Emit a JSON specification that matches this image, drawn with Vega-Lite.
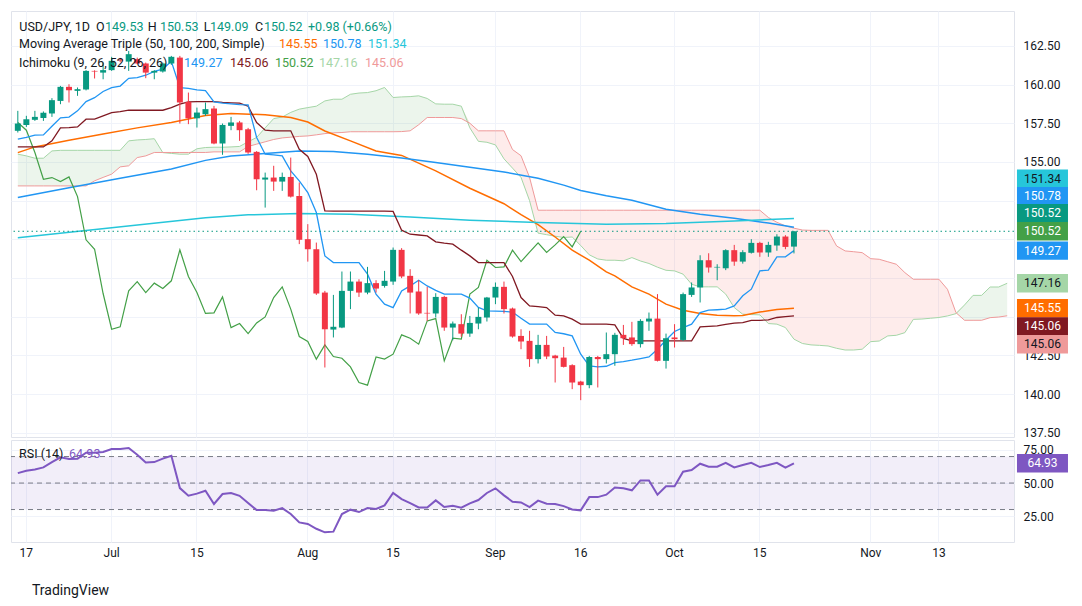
{
  "$schema": "https://vega.github.io/schema/vega-lite/v6.json",
  "background": "white",
  "padding": {"left": 10, "top": 10, "right": 0, "bottom": 0},
  "config": {"font": "Roboto", "view": {"stroke": "#e0e3eb"}},
  "spacing": -4,
  "resolve": {"scale": {"x": "shared", "y": "independent"}},
  "title": {"text": "TradingView", "orient": "bottom", "anchor": "start", "fontSize": 14, "fontWeight": "normal", "color": "#131722", "dx": 22, "offset": 25},
  "datasets": {
    "candles": [
      {"d":"2024-06-14","o":157.01,"h":158.30,"l":156.90,"c":157.48,"t":156.47,"k":155.97,"r":57.5,"g":157.55},
      {"d":"2024-06-17","o":157.39,"h":157.98,"l":157.26,"c":157.76,"t":156.58,"k":155.97,"r":59.3,"g":157.05},
      {"d":"2024-06-18","o":157.72,"h":158.30,"l":157.65,"c":157.91,"t":156.73,"k":155.97,"r":60.3,"g":155.61},
      {"d":"2024-06-19","o":157.83,"h":158.26,"l":157.65,"c":158.17,"t":156.75,"k":155.97,"r":61.8,"g":153.88},
      {"d":"2024-06-20","o":158.13,"h":159.12,"l":157.91,"c":158.99,"t":157.30,"k":156.36,"r":65.8,"g":153.99},
      {"d":"2024-06-21","o":158.94,"h":159.91,"l":158.73,"c":159.85,"t":157.85,"k":157.20,"r":69.4,"g":153.73},
      {"d":"2024-06-24","o":159.85,"h":160.02,"l":158.84,"c":159.63,"t":157.90,"k":157.22,"r":68.1,"g":154.03},
      {"d":"2024-06-25","o":159.59,"h":159.81,"l":159.27,"c":159.70,"t":158.30,"k":157.26,"r":68.4,"g":152.76},
      {"d":"2024-06-26","o":159.68,"h":160.93,"l":159.62,"c":160.88,"t":158.90,"k":157.76,"r":72.9,"g":149.97},
      {"d":"2024-06-27","o":160.88,"h":160.92,"l":160.39,"c":160.84,"t":159.15,"k":157.76,"r":72.9,"g":149.36},
      {"d":"2024-06-28","o":160.77,"h":161.42,"l":160.34,"c":160.93,"t":159.55,"k":157.97,"r":73.4,"g":146.50},
      {"d":"2024-07-01","o":160.93,"h":161.79,"l":160.88,"c":161.53,"t":159.80,"k":158.19,"r":75.7,"g":144.19},
      {"d":"2024-07-02","o":161.62,"h":161.72,"l":161.45,"c":161.55,"t":159.90,"k":158.25,"r":75.7,"g":144.35},
      {"d":"2024-07-03","o":161.48,"h":162.17,"l":160.88,"c":161.96,"t":160.40,"k":158.34,"r":76.4,"g":146.67},
      {"d":"2024-07-04","o":161.64,"h":161.74,"l":161.31,"c":161.36,"t":160.45,"k":158.34,"r":71.4,"g":147.27},
      {"d":"2024-07-05","o":161.36,"h":161.42,"l":160.41,"c":160.77,"t":160.60,"k":158.34,"r":65.6,"g":146.56},
      {"d":"2024-07-08","o":160.77,"h":160.93,"l":160.34,"c":160.88,"t":160.85,"k":158.34,"r":65.8,"g":147.17},
      {"d":"2024-07-09","o":160.84,"h":161.42,"l":160.77,"c":161.36,"t":161.00,"k":158.34,"r":68.4,"g":146.82},
      {"d":"2024-07-10","o":161.36,"h":161.85,"l":161.27,"c":161.79,"t":161.50,"k":158.51,"r":70.6,"g":147.32},
      {"d":"2024-07-11","o":161.74,"h":161.85,"l":157.48,"c":158.84,"t":159.80,"k":158.73,"r":46.2,"g":149.32},
      {"d":"2024-07-12","o":158.88,"h":159.48,"l":157.44,"c":157.82,"t":159.75,"k":158.88,"r":40.4,"g":147.60},
      {"d":"2024-07-15","o":157.82,"h":158.51,"l":157.22,"c":158.19,"t":159.65,"k":158.90,"r":42.0,"g":146.56},
      {"d":"2024-07-16","o":158.08,"h":158.84,"l":157.98,"c":158.41,"t":159.60,"k":158.90,"r":44.2,"g":145.21},
      {"d":"2024-07-17","o":158.45,"h":158.62,"l":156.14,"c":156.19,"t":158.88,"k":158.90,"r":34.2,"g":145.25},
      {"d":"2024-07-18","o":156.19,"h":157.48,"l":155.46,"c":157.39,"t":158.80,"k":158.85,"r":41.7,"g":146.28},
      {"d":"2024-07-19","o":157.33,"h":157.91,"l":157.05,"c":157.55,"t":158.75,"k":158.82,"r":42.5,"g":144.30},
      {"d":"2024-07-22","o":157.55,"h":157.65,"l":156.36,"c":157.05,"t":158.70,"k":158.80,"r":40.4,"g":144.56},
      {"d":"2024-07-23","o":157.11,"h":157.20,"l":155.52,"c":155.61,"t":158.69,"k":158.60,"r":34.9,"g":143.91},
      {"d":"2024-07-24","o":155.65,"h":155.70,"l":153.17,"c":153.88,"t":156.58,"k":157.54,"r":29.6,"g":144.60},
      {"d":"2024-07-25","o":153.86,"h":154.31,"l":152.05,"c":153.99,"t":155.50,"k":157.05,"r":29.6,"g":144.99},
      {"d":"2024-07-26","o":153.99,"h":154.75,"l":153.13,"c":153.73,"t":155.45,"k":157.01,"r":29.1,"g":146.24},
      {"d":"2024-07-29","o":153.73,"h":154.31,"l":153.13,"c":154.03,"t":155.39,"k":157.01,"r":31.1,"g":146.93},
      {"d":"2024-07-30","o":154.03,"h":155.28,"l":152.70,"c":152.76,"t":154.42,"k":157.01,"r":26.6,"g":145.49},
      {"d":"2024-07-31","o":152.80,"h":153.67,"l":149.69,"c":149.97,"t":153.78,"k":155.82,"r":20.3,"g":143.72},
      {"d":"2024-08-01","o":150.01,"h":150.98,"l":148.56,"c":149.36,"t":153.02,"k":155.35,"r":19.1,"g":143.40},
      {"d":"2024-08-02","o":149.36,"h":149.79,"l":146.41,"c":146.50,"t":151.73,"k":154.20,"r":15.5,"g":142.26},
      {"d":"2024-08-05","o":146.56,"h":146.67,"l":141.72,"c":144.19,"t":148.93,"k":151.84,"r":12.8,"g":143.18},
      {"d":"2024-08-06","o":144.17,"h":146.41,"l":143.66,"c":144.35,"t":148.50,"k":151.82,"r":13.3,"g":142.43},
      {"d":"2024-08-07","o":144.30,"h":147.92,"l":144.26,"c":146.67,"t":148.50,"k":151.82,"r":26.6,"g":142.32},
      {"d":"2024-08-08","o":146.67,"h":147.92,"l":145.49,"c":147.27,"t":148.50,"k":151.82,"r":29.9,"g":141.76},
      {"d":"2024-08-09","o":147.27,"h":147.42,"l":146.28,"c":146.56,"t":148.50,"k":151.82,"r":28.1,"g":140.75},
      {"d":"2024-08-12","o":146.56,"h":148.22,"l":146.45,"c":147.17,"t":147.75,"k":151.82,"r":31.1,"g":140.58},
      {"d":"2024-08-13","o":147.17,"h":147.36,"l":146.56,"c":146.82,"t":146.46,"k":151.82,"r":30.4,"g":142.40},
      {"d":"2024-08-14","o":146.99,"h":147.96,"l":146.88,"c":147.32,"t":145.81,"k":151.82,"r":33.1,"g":142.26},
      {"d":"2024-08-15","o":147.27,"h":149.47,"l":147.06,"c":149.32,"t":145.59,"k":151.80,"r":42.5,"g":142.58},
      {"d":"2024-08-16","o":149.32,"h":149.43,"l":147.49,"c":147.60,"t":146.67,"k":150.59,"r":37.9,"g":143.83},
      {"d":"2024-08-19","o":147.64,"h":148.07,"l":145.21,"c":146.56,"t":146.99,"k":150.33,"r":34.9,"g":143.61},
      {"d":"2024-08-20","o":146.63,"h":147.36,"l":145.12,"c":145.21,"t":147.36,"k":150.28,"r":31.6,"g":143.23},
      {"d":"2024-08-21","o":145.25,"h":146.93,"l":144.73,"c":145.21,"t":146.99,"k":150.22,"r":31.6,"g":144.73},
      {"d":"2024-08-22","o":145.21,"h":146.52,"l":144.95,"c":146.28,"t":146.70,"k":149.84,"r":36.9,"g":144.88},
      {"d":"2024-08-23","o":146.28,"h":146.35,"l":144.09,"c":144.30,"t":146.46,"k":149.75,"r":31.9,"g":142.15},
      {"d":"2024-08-26","o":144.30,"h":144.69,"l":143.48,"c":144.56,"t":146.46,"k":149.69,"r":32.9,"g":143.61},
      {"d":"2024-08-27","o":144.52,"h":145.16,"l":143.70,"c":143.91,"t":146.46,"k":149.30,"r":31.4,"g":143.55},
      {"d":"2024-08-28","o":143.91,"h":145.05,"l":143.70,"c":144.60,"t":146.20,"k":148.93,"r":34.7,"g":146.46},
      {"d":"2024-08-29","o":144.56,"h":145.59,"l":144.19,"c":144.99,"t":145.60,"k":148.50,"r":37.2,"g":146.89},
      {"d":"2024-08-30","o":144.95,"h":146.28,"l":144.69,"c":146.24,"t":145.38,"k":148.50,"r":42.5,"g":148.65},
      {"d":"2024-09-02","o":146.24,"h":147.21,"l":145.81,"c":146.93,"t":145.36,"k":148.50,"r":46.0,"g":148.18},
      {"d":"2024-09-03","o":146.93,"h":147.27,"l":145.21,"c":145.49,"t":145.34,"k":148.50,"r":40.7,"g":148.22},
      {"d":"2024-09-04","o":145.53,"h":145.59,"l":143.65,"c":143.72,"t":145.30,"k":147.60,"r":35.9,"g":149.30},
      {"d":"2024-09-05","o":143.76,"h":144.19,"l":142.90,"c":143.40,"t":144.90,"k":146.24,"r":35.4,"g":148.56},
      {"d":"2024-09-06","o":143.44,"h":144.09,"l":141.76,"c":142.26,"t":144.52,"k":145.70,"r":31.9,"g":149.17},
      {"d":"2024-09-09","o":142.26,"h":143.83,"l":141.98,"c":143.18,"t":144.52,"k":145.65,"r":36.7,"g":149.77},
      {"d":"2024-09-10","o":143.18,"h":143.76,"l":142.26,"c":142.43,"t":144.52,"k":145.59,"r":34.4,"g":149.15},
      {"d":"2024-09-11","o":142.49,"h":142.54,"l":140.75,"c":142.32,"t":143.98,"k":145.10,"r":34.2,"g":149.64},
      {"d":"2024-09-12","o":142.36,"h":143.05,"l":141.72,"c":141.76,"t":143.90,"k":145.06,"r":32.6,"g":150.18},
      {"d":"2024-09-13","o":141.87,"h":141.93,"l":140.32,"c":140.75,"t":143.76,"k":144.84,"r":30.1,"g":149.51},
      {"d":"2024-09-16","o":140.81,"h":140.86,"l":139.61,"c":140.58,"t":142.58,"k":144.52,"r":29.4,"g":150.52},
      {"d":"2024-09-17","o":140.58,"h":142.47,"l":140.38,"c":142.40,"t":141.83,"k":144.52,"r":39.4},
      {"d":"2024-09-18","o":142.40,"h":142.47,"l":140.43,"c":142.26,"t":141.76,"k":144.52,"r":39.4},
      {"d":"2024-09-19","o":142.26,"h":143.98,"l":141.98,"c":142.58,"t":141.80,"k":144.52,"r":41.2},
      {"d":"2024-09-20","o":142.58,"h":143.96,"l":141.83,"c":143.83,"t":142.04,"k":144.47,"r":46.7},
      {"d":"2024-09-23","o":143.83,"h":144.47,"l":143.18,"c":143.61,"t":142.10,"k":143.60,"r":46.0},
      {"d":"2024-09-24","o":143.66,"h":144.67,"l":143.12,"c":143.23,"t":142.19,"k":143.44,"r":44.5},
      {"d":"2024-09-25","o":143.23,"h":144.84,"l":143.01,"c":144.73,"t":142.30,"k":143.44,"r":52.0},
      {"d":"2024-09-26","o":144.69,"h":145.27,"l":144.09,"c":144.88,"t":142.40,"k":143.44,"r":52.0},
      {"d":"2024-09-27","o":144.88,"h":146.46,"l":142.11,"c":142.15,"t":142.90,"k":143.44,"r":41.2},
      {"d":"2024-09-30","o":142.15,"h":143.91,"l":141.65,"c":143.61,"t":143.50,"k":143.44,"r":47.5},
      {"d":"2024-10-01","o":143.66,"h":144.52,"l":143.01,"c":143.55,"t":144.05,"k":143.44,"r":47.5},
      {"d":"2024-10-02","o":143.50,"h":146.56,"l":143.44,"c":146.46,"t":144.30,"k":143.44,"r":58.6},
      {"d":"2024-10-03","o":146.41,"h":147.21,"l":146.28,"c":146.89,"t":144.52,"k":143.44,"r":59.8},
      {"d":"2024-10-04","o":146.89,"h":148.97,"l":145.92,"c":148.65,"t":145.27,"k":144.34,"r":64.6},
      {"d":"2024-10-07","o":148.65,"h":149.10,"l":147.85,"c":148.18,"t":145.42,"k":144.38,"r":62.3},
      {"d":"2024-10-08","o":148.18,"h":148.39,"l":147.36,"c":148.22,"t":145.45,"k":144.41,"r":62.3},
      {"d":"2024-10-09","o":148.13,"h":149.36,"l":148.01,"c":149.30,"t":145.49,"k":144.50,"r":65.3},
      {"d":"2024-10-10","o":149.30,"h":149.64,"l":148.29,"c":148.56,"t":145.70,"k":144.58,"r":61.8},
      {"d":"2024-10-11","o":148.56,"h":149.30,"l":148.43,"c":149.17,"t":146.35,"k":144.62,"r":63.6},
      {"d":"2024-10-14","o":149.13,"h":150.01,"l":149.08,"c":149.77,"t":146.78,"k":144.77,"r":65.3},
      {"d":"2024-10-15","o":149.77,"h":149.84,"l":148.87,"c":149.15,"t":147.96,"k":144.77,"r":62.1},
      {"d":"2024-10-16","o":149.15,"h":149.84,"l":148.87,"c":149.64,"t":148.01,"k":144.80,"r":63.6},
      {"d":"2024-10-17","o":149.60,"h":150.33,"l":149.26,"c":150.18,"t":148.87,"k":144.95,"r":65.3},
      {"d":"2024-10-18","o":150.18,"h":150.27,"l":149.36,"c":149.51,"t":148.87,"k":145.00,"r":61.6},
      {"d":"2024-10-21","o":149.53,"h":150.53,"l":149.09,"c":150.52,"t":149.27,"k":145.06,"r":64.93}
    ],
    "cloud": [
      {"d":"2024-06-14","a":155.50,"b":153.45,"m":155.50},
      {"d":"2024-06-17","a":155.39,"b":153.45,"m":155.39},
      {"d":"2024-06-18","a":155.24,"b":153.45,"m":155.24},
      {"d":"2024-06-19","a":155.24,"b":153.45,"m":155.24},
      {"d":"2024-06-20","a":155.71,"b":153.45,"m":155.71},
      {"d":"2024-06-21","a":155.75,"b":153.45,"m":155.75},
      {"d":"2024-06-24","a":155.75,"b":153.45,"m":155.75},
      {"d":"2024-06-25","a":155.75,"b":153.45,"m":155.75},
      {"d":"2024-06-26","a":155.75,"b":153.45,"m":155.75},
      {"d":"2024-06-27","a":155.75,"b":153.78,"m":155.75},
      {"d":"2024-06-28","a":155.75,"b":154.00,"m":155.75},
      {"d":"2024-07-01","a":155.75,"b":154.21,"m":155.75},
      {"d":"2024-07-02","a":155.75,"b":154.68,"m":155.75},
      {"d":"2024-07-03","a":156.36,"b":154.75,"m":156.36},
      {"d":"2024-07-04","a":156.42,"b":155.28,"m":156.42},
      {"d":"2024-07-05","a":156.45,"b":155.39,"m":156.45},
      {"d":"2024-07-08","a":156.50,"b":155.61,"m":156.50},
      {"d":"2024-07-09","a":155.60,"b":155.61,"m":155.61},
      {"d":"2024-07-10","a":155.55,"b":155.61,"m":155.61},
      {"d":"2024-07-11","a":155.50,"b":155.61,"m":155.61},
      {"d":"2024-07-12","a":155.50,"b":155.61,"m":155.61},
      {"d":"2024-07-15","a":155.85,"b":155.61,"m":155.85},
      {"d":"2024-07-16","a":155.93,"b":155.61,"m":155.93},
      {"d":"2024-07-17","a":155.95,"b":155.65,"m":155.95},
      {"d":"2024-07-18","a":155.95,"b":155.65,"m":155.95},
      {"d":"2024-07-19","a":155.97,"b":155.65,"m":155.97},
      {"d":"2024-07-22","a":156.00,"b":155.65,"m":156.00},
      {"d":"2024-07-23","a":156.30,"b":156.00,"m":156.30},
      {"d":"2024-07-24","a":156.58,"b":156.15,"m":156.58},
      {"d":"2024-07-25","a":157.20,"b":156.30,"m":157.20},
      {"d":"2024-07-26","a":157.80,"b":156.45,"m":157.80},
      {"d":"2024-07-29","a":157.90,"b":156.55,"m":157.90},
      {"d":"2024-07-30","a":158.20,"b":156.60,"m":158.20},
      {"d":"2024-07-31","a":158.41,"b":156.65,"m":158.41},
      {"d":"2024-08-01","a":158.51,"b":156.68,"m":158.51},
      {"d":"2024-08-02","a":158.60,"b":156.75,"m":158.60},
      {"d":"2024-08-05","a":158.94,"b":156.83,"m":158.94},
      {"d":"2024-08-06","a":159.05,"b":156.88,"m":159.05},
      {"d":"2024-08-07","a":159.05,"b":156.90,"m":159.05},
      {"d":"2024-08-08","a":159.37,"b":156.95,"m":159.37},
      {"d":"2024-08-09","a":159.45,"b":156.95,"m":159.45},
      {"d":"2024-08-12","a":159.48,"b":156.95,"m":159.48},
      {"d":"2024-08-13","a":159.60,"b":156.95,"m":159.60},
      {"d":"2024-08-14","a":159.81,"b":156.95,"m":159.81},
      {"d":"2024-08-15","a":159.16,"b":156.95,"m":159.16},
      {"d":"2024-08-16","a":159.20,"b":156.96,"m":159.20},
      {"d":"2024-08-19","a":159.22,"b":157.01,"m":159.22},
      {"d":"2024-08-20","a":159.27,"b":157.40,"m":159.27},
      {"d":"2024-08-21","a":159.10,"b":157.87,"m":159.10},
      {"d":"2024-08-22","a":158.75,"b":157.87,"m":158.75},
      {"d":"2024-08-23","a":158.73,"b":157.87,"m":158.73},
      {"d":"2024-08-26","a":158.73,"b":157.87,"m":158.73},
      {"d":"2024-08-27","a":158.60,"b":157.80,"m":158.60},
      {"d":"2024-08-28","a":157.20,"b":157.50,"m":157.50},
      {"d":"2024-08-29","a":156.33,"b":157.01,"m":157.01},
      {"d":"2024-08-30","a":156.27,"b":157.01,"m":157.01},
      {"d":"2024-09-02","a":156.10,"b":157.01,"m":157.01},
      {"d":"2024-09-03","a":155.20,"b":157.01,"m":157.01},
      {"d":"2024-09-04","a":154.60,"b":155.80,"m":155.80},
      {"d":"2024-09-05","a":154.00,"b":155.40,"m":155.40},
      {"d":"2024-09-06","a":152.50,"b":154.00,"m":154.00},
      {"d":"2024-09-09","a":150.40,"b":151.88,"m":151.88},
      {"d":"2024-09-10","a":150.30,"b":151.88,"m":151.88},
      {"d":"2024-09-11","a":150.20,"b":151.88,"m":151.88},
      {"d":"2024-09-12","a":150.12,"b":151.88,"m":151.88},
      {"d":"2024-09-13","a":150.15,"b":151.88,"m":151.88},
      {"d":"2024-09-16","a":149.60,"b":151.88,"m":151.88},
      {"d":"2024-09-17","a":149.00,"b":151.88,"m":151.88},
      {"d":"2024-09-18","a":148.73,"b":151.88,"m":151.88},
      {"d":"2024-09-19","a":148.65,"b":151.88,"m":151.88},
      {"d":"2024-09-20","a":148.65,"b":151.88,"m":151.88},
      {"d":"2024-09-23","a":148.61,"b":151.88,"m":151.88},
      {"d":"2024-09-24","a":148.82,"b":151.88,"m":151.88},
      {"d":"2024-09-25","a":148.60,"b":151.88,"m":151.88},
      {"d":"2024-09-26","a":148.44,"b":151.88,"m":151.88},
      {"d":"2024-09-27","a":148.20,"b":151.88,"m":151.88},
      {"d":"2024-09-30","a":148.00,"b":151.88,"m":151.88},
      {"d":"2024-10-01","a":147.96,"b":151.88,"m":151.88},
      {"d":"2024-10-02","a":147.75,"b":151.88,"m":151.88},
      {"d":"2024-10-03","a":147.10,"b":151.88,"m":151.88},
      {"d":"2024-10-04","a":146.93,"b":151.88,"m":151.88},
      {"d":"2024-10-07","a":146.93,"b":151.88,"m":151.88},
      {"d":"2024-10-08","a":146.93,"b":151.88,"m":151.88},
      {"d":"2024-10-09","a":146.46,"b":151.88,"m":151.88},
      {"d":"2024-10-10","a":145.59,"b":151.88,"m":151.88},
      {"d":"2024-10-11","a":145.16,"b":151.88,"m":151.88},
      {"d":"2024-10-14","a":145.14,"b":151.88,"m":151.88},
      {"d":"2024-10-15","a":145.12,"b":151.88,"m":151.88},
      {"d":"2024-10-16","a":144.56,"b":151.41,"m":151.41},
      {"d":"2024-10-17","a":144.52,"b":151.10,"m":151.10},
      {"d":"2024-10-18","a":144.30,"b":150.87,"m":150.87},
      {"d":"2024-10-21","a":143.55,"b":150.72,"m":150.72},
      {"d":"2024-10-22","a":143.27,"b":150.60,"m":150.60},
      {"d":"2024-10-23","a":143.18,"b":150.58,"m":150.58},
      {"d":"2024-10-24","a":143.15,"b":150.58,"m":150.58},
      {"d":"2024-10-25","a":143.11,"b":150.58,"m":150.58},
      {"d":"2024-10-28","a":142.96,"b":149.57,"m":149.57},
      {"d":"2024-10-29","a":142.85,"b":149.25,"m":149.25},
      {"d":"2024-10-30","a":142.85,"b":149.20,"m":149.20},
      {"d":"2024-10-31","a":142.90,"b":149.14,"m":149.14},
      {"d":"2024-11-01","a":143.39,"b":148.75,"m":148.75},
      {"d":"2024-11-04","a":143.43,"b":148.71,"m":148.71},
      {"d":"2024-11-05","a":143.76,"b":148.55,"m":148.55},
      {"d":"2024-11-06","a":143.80,"b":148.39,"m":148.39},
      {"d":"2024-11-07","a":143.97,"b":147.85,"m":147.85},
      {"d":"2024-11-08","a":144.83,"b":147.42,"m":147.42},
      {"d":"2024-11-11","a":144.85,"b":147.42,"m":147.42},
      {"d":"2024-11-12","a":144.90,"b":147.42,"m":147.42},
      {"d":"2024-11-13","a":144.95,"b":147.42,"m":147.42},
      {"d":"2024-11-14","a":145.05,"b":146.77,"m":146.77},
      {"d":"2024-11-15","a":145.20,"b":145.26,"m":145.26},
      {"d":"2024-11-18","a":145.76,"b":144.77,"m":145.76},
      {"d":"2024-11-19","a":146.38,"b":144.77,"m":146.38},
      {"d":"2024-11-20","a":146.38,"b":144.77,"m":146.38},
      {"d":"2024-11-21","a":146.92,"b":144.94,"m":146.92},
      {"d":"2024-11-22","a":146.92,"b":144.98,"m":146.92},
      {"d":"2024-11-25","a":147.16,"b":145.06,"m":147.16}
    ],
    "ma": [
      {"s":"SMA 50","d":"2024-06-14","v":155.60},{"s":"SMA 50","d":"2024-06-18","v":155.97},{"s":"SMA 50","d":"2024-06-24","v":156.40},{"s":"SMA 50","d":"2024-06-28","v":156.80},{"s":"SMA 50","d":"2024-07-04","v":157.20},{"s":"SMA 50","d":"2024-07-10","v":157.55},{"s":"SMA 50","d":"2024-07-16","v":158.00},{"s":"SMA 50","d":"2024-07-19","v":158.13},{"s":"SMA 50","d":"2024-07-25","v":158.05},{"s":"SMA 50","d":"2024-07-30","v":157.87},{"s":"SMA 50","d":"2024-08-01","v":157.58},{"s":"SMA 50","d":"2024-08-05","v":157.00},{"s":"SMA 50","d":"2024-08-08","v":156.36},{"s":"SMA 50","d":"2024-08-13","v":155.71},{"s":"SMA 50","d":"2024-08-16","v":155.42},{"s":"SMA 50","d":"2024-08-22","v":154.42},{"s":"SMA 50","d":"2024-08-28","v":153.30},{"s":"SMA 50","d":"2024-09-03","v":152.30},{"s":"SMA 50","d":"2024-09-05","v":151.60},{"s":"SMA 50","d":"2024-09-09","v":150.95},{"s":"SMA 50","d":"2024-09-11","v":150.15},{"s":"SMA 50","d":"2024-09-13","v":149.30},{"s":"SMA 50","d":"2024-09-17","v":148.65},{"s":"SMA 50","d":"2024-09-19","v":147.90},{"s":"SMA 50","d":"2024-09-20","v":147.64},{"s":"SMA 50","d":"2024-09-24","v":146.93},{"s":"SMA 50","d":"2024-09-26","v":146.46},{"s":"SMA 50","d":"2024-09-30","v":145.81},{"s":"SMA 50","d":"2024-10-02","v":145.42},{"s":"SMA 50","d":"2024-10-04","v":145.21},{"s":"SMA 50","d":"2024-10-08","v":145.10},{"s":"SMA 50","d":"2024-10-10","v":145.06},{"s":"SMA 50","d":"2024-10-11","v":145.08},{"s":"SMA 50","d":"2024-10-15","v":145.30},{"s":"SMA 50","d":"2024-10-17","v":145.46},{"s":"SMA 50","d":"2024-10-21","v":145.55},
      {"s":"SMA 100","d":"2024-06-14","v":152.70},{"s":"SMA 100","d":"2024-06-24","v":153.33},{"s":"SMA 100","d":"2024-07-02","v":153.95},{"s":"SMA 100","d":"2024-07-10","v":154.55},{"s":"SMA 100","d":"2024-07-16","v":155.10},{"s":"SMA 100","d":"2024-07-19","v":155.39},{"s":"SMA 100","d":"2024-07-25","v":155.54},{"s":"SMA 100","d":"2024-07-31","v":155.71},{"s":"SMA 100","d":"2024-08-06","v":155.67},{"s":"SMA 100","d":"2024-08-12","v":155.50},{"s":"SMA 100","d":"2024-08-16","v":155.26},{"s":"SMA 100","d":"2024-08-22","v":154.96},{"s":"SMA 100","d":"2024-08-28","v":154.66},{"s":"SMA 100","d":"2024-09-03","v":154.35},{"s":"SMA 100","d":"2024-09-09","v":153.95},{"s":"SMA 100","d":"2024-09-12","v":153.50},{"s":"SMA 100","d":"2024-09-16","v":153.15},{"s":"SMA 100","d":"2024-09-19","v":152.82},{"s":"SMA 100","d":"2024-09-24","v":152.53},{"s":"SMA 100","d":"2024-09-30","v":151.95},{"s":"SMA 100","d":"2024-10-04","v":151.62},{"s":"SMA 100","d":"2024-10-10","v":151.36},{"s":"SMA 100","d":"2024-10-16","v":151.05},{"s":"SMA 100","d":"2024-10-21","v":150.78},
      {"s":"SMA 200","d":"2024-06-14","v":150.10},{"s":"SMA 200","d":"2024-07-01","v":150.75},{"s":"SMA 200","d":"2024-07-16","v":151.40},{"s":"SMA 200","d":"2024-07-23","v":151.58},{"s":"SMA 200","d":"2024-07-31","v":151.67},{"s":"SMA 200","d":"2024-08-08","v":151.62},{"s":"SMA 200","d":"2024-08-19","v":151.45},{"s":"SMA 200","d":"2024-08-28","v":151.24},{"s":"SMA 200","d":"2024-09-09","v":151.09},{"s":"SMA 200","d":"2024-09-19","v":150.98},{"s":"SMA 200","d":"2024-09-30","v":151.02},{"s":"SMA 200","d":"2024-10-10","v":151.19},{"s":"SMA 200","d":"2024-10-21","v":151.34}
    ]
  },
  "vconcat": [
    {
      "width": 1003,
      "height": 426,
      "layer": [
        {
          "data": {"name": "cloud"},
          "mark": {"type": "area", "color": "#43A047", "opacity": 0.1},
          "encoding": {
            "x": {"field": "d", "type": "ordinal", "scale": {"type": "band", "paddingInner": 0, "paddingOuter": 0.3},
                  "axis": {"values": ["2024-06-17","2024-07-01","2024-07-15","2024-08-01","2024-08-15","2024-09-02","2024-09-16","2024-10-01","2024-10-15","2024-11-01","2024-11-13"], "labels": false, "ticks": false, "domain": false, "title": null, "grid": true, "gridColor": "#f0f3fa", "bandPosition": 0.5}},
            "y": {"field": "m", "type": "quantitative", "scale": {"domain": [137.23, 164.75], "nice": false, "zero": false},
                  "axis": {"orient": "right", "values": [137.5,140,142.5,145,147.5,150,152.5,155,157.5,160,162.5], "labelExpr": "datum.value > 144 && datum.value < 154 ? '' : format(datum.value, '.2f')", "title": null, "grid": true, "gridColor": "#f0f3fa", "domain": false, "ticks": false, "tickSize": 0, "labelPadding": 9, "labelFontSize": 12, "labelColor": "#131722"}},
            "y2": {"field": "b"}
          }
        },
        {
          "data": {"name": "cloud"},
          "mark": {"type": "area", "color": "#F44336", "opacity": 0.1},
          "encoding": {"x": {"field": "d", "type": "ordinal"}, "y": {"field": "m", "type": "quantitative"}, "y2": {"field": "a"}}
        },
        {
          "data": {"name": "cloud"},
          "mark": {"type": "line", "color": "#A5D6A7", "strokeWidth": 1},
          "encoding": {"x": {"field": "d", "type": "ordinal"}, "y": {"field": "a", "type": "quantitative"}}
        },
        {
          "data": {"name": "cloud"},
          "mark": {"type": "line", "color": "#EF9A9A", "strokeWidth": 1},
          "encoding": {"x": {"field": "d", "type": "ordinal"}, "y": {"field": "b", "type": "quantitative"}}
        },
        {
          "data": {"name": "ma"},
          "mark": {"type": "line", "strokeWidth": 1.5},
          "encoding": {
            "x": {"field": "d", "type": "ordinal"},
            "y": {"field": "v", "type": "quantitative"},
            "color": {"field": "s", "type": "nominal", "scale": {"domain": ["SMA 50","SMA 100","SMA 200"], "range": ["#FF6D00","#2196F3","#26C6DA"]}, "legend": null}
          }
        },
        {
          "data": {"name": "candles"},
          "mark": {"type": "line", "color": "#43A047", "strokeWidth": 1.2},
          "encoding": {"x": {"field": "d", "type": "ordinal"}, "y": {"field": "g", "type": "quantitative"}}
        },
        {
          "data": {"name": "candles"},
          "mark": {"type": "line", "color": "#801922", "strokeWidth": 1.3},
          "encoding": {"x": {"field": "d", "type": "ordinal"}, "y": {"field": "k", "type": "quantitative"}}
        },
        {
          "data": {"name": "candles"},
          "mark": {"type": "line", "color": "#2196F3", "strokeWidth": 1.3},
          "encoding": {"x": {"field": "d", "type": "ordinal"}, "y": {"field": "t", "type": "quantitative"}}
        },
        {
          "data": {"values": [{}]},
          "mark": {"type": "rule", "color": "#089981", "strokeDash": [1.5, 3], "strokeWidth": 1},
          "encoding": {"y": {"datum": 150.52, "type": "quantitative"}}
        },
        {
          "data": {"name": "candles"},
          "mark": {"type": "rule", "strokeWidth": 1},
          "encoding": {
            "x": {"field": "d", "type": "ordinal"},
            "y": {"field": "l", "type": "quantitative"},
            "y2": {"field": "h"},
            "color": {"condition": {"test": "datum.c >= datum.o", "value": "#089981"}, "value": "#F23645"}
          }
        },
        {
          "data": {"name": "candles"},
          "mark": {"type": "bar", "width": {"band": 0.7}},
          "encoding": {
            "x": {"field": "d", "type": "ordinal"},
            "y": {"field": "o", "type": "quantitative"},
            "y2": {"field": "c"},
            "color": {"condition": {"test": "datum.c >= datum.o", "value": "#089981"}, "value": "#F23645"}
          }
        },
        {"data": {"values": [{}]}, "mark": {"type": "text", "text": "USD/JPY, 1D", "align": "left", "baseline": "middle", "dx": 1.5, "fontSize": 12.5, "color": "#131722"}, "encoding": {"x": {"datum": "2024-06-14", "type": "ordinal"}, "y": {"datum": 163.74, "type": "quantitative"}}},
        {"data": {"values": [{}]}, "mark": {"type": "text", "text": "O", "align": "left", "baseline": "middle", "dx": 78.2, "fontSize": 12.5, "color": "#131722"}, "encoding": {"x": {"datum": "2024-06-14", "type": "ordinal"}, "y": {"datum": 163.74, "type": "quantitative"}}},
        {"data": {"values": [{}]}, "mark": {"type": "text", "text": "149.53", "align": "left", "baseline": "middle", "dx": 87.2, "fontSize": 12.5, "color": "#089981"}, "encoding": {"x": {"datum": "2024-06-14", "type": "ordinal"}, "y": {"datum": 163.74, "type": "quantitative"}}},
        {"data": {"values": [{}]}, "mark": {"type": "text", "text": "H", "align": "left", "baseline": "middle", "dx": 129.9, "fontSize": 12.5, "color": "#131722"}, "encoding": {"x": {"datum": "2024-06-14", "type": "ordinal"}, "y": {"datum": 163.74, "type": "quantitative"}}},
        {"data": {"values": [{}]}, "mark": {"type": "text", "text": "150.53", "align": "left", "baseline": "middle", "dx": 142.2, "fontSize": 12.5, "color": "#089981"}, "encoding": {"x": {"datum": "2024-06-14", "type": "ordinal"}, "y": {"datum": 163.74, "type": "quantitative"}}},
        {"data": {"values": [{}]}, "mark": {"type": "text", "text": "L", "align": "left", "baseline": "middle", "dx": 185.9, "fontSize": 12.5, "color": "#131722"}, "encoding": {"x": {"datum": "2024-06-14", "type": "ordinal"}, "y": {"datum": 163.74, "type": "quantitative"}}},
        {"data": {"values": [{}]}, "mark": {"type": "text", "text": "149.09", "align": "left", "baseline": "middle", "dx": 192.2, "fontSize": 12.5, "color": "#089981"}, "encoding": {"x": {"datum": "2024-06-14", "type": "ordinal"}, "y": {"datum": 163.74, "type": "quantitative"}}},
        {"data": {"values": [{}]}, "mark": {"type": "text", "text": "C", "align": "left", "baseline": "middle", "dx": 237.2, "fontSize": 12.5, "color": "#131722"}, "encoding": {"x": {"datum": "2024-06-14", "type": "ordinal"}, "y": {"datum": 163.74, "type": "quantitative"}}},
        {"data": {"values": [{}]}, "mark": {"type": "text", "text": "150.52", "align": "left", "baseline": "middle", "dx": 246.2, "fontSize": 12.5, "color": "#089981"}, "encoding": {"x": {"datum": "2024-06-14", "type": "ordinal"}, "y": {"datum": 163.74, "type": "quantitative"}}},
        {"data": {"values": [{}]}, "mark": {"type": "text", "text": "+0.98 (+0.66%)", "align": "left", "baseline": "middle", "dx": 290.2, "fontSize": 12.5, "color": "#089981"}, "encoding": {"x": {"datum": "2024-06-14", "type": "ordinal"}, "y": {"datum": 163.74, "type": "quantitative"}}},
        {"data": {"values": [{}]}, "mark": {"type": "text", "text": "Moving Average Triple (50, 100, 200, Simple)", "align": "left", "baseline": "middle", "dx": 1.2, "fontSize": 12.5, "color": "#131722"}, "encoding": {"x": {"datum": "2024-06-14", "type": "ordinal"}, "y": {"datum": 162.60, "type": "quantitative"}}},
        {"data": {"values": [{}]}, "mark": {"type": "text", "text": "145.55", "align": "left", "baseline": "middle", "dx": 261.2, "fontSize": 12.5, "color": "#FF6D00"}, "encoding": {"x": {"datum": "2024-06-14", "type": "ordinal"}, "y": {"datum": 162.60, "type": "quantitative"}}},
        {"data": {"values": [{}]}, "mark": {"type": "text", "text": "150.78", "align": "left", "baseline": "middle", "dx": 305.2, "fontSize": 12.5, "color": "#2196F3"}, "encoding": {"x": {"datum": "2024-06-14", "type": "ordinal"}, "y": {"datum": 162.60, "type": "quantitative"}}},
        {"data": {"values": [{}]}, "mark": {"type": "text", "text": "151.34", "align": "left", "baseline": "middle", "dx": 350.2, "fontSize": 12.5, "color": "#26C6DA"}, "encoding": {"x": {"datum": "2024-06-14", "type": "ordinal"}, "y": {"datum": 162.60, "type": "quantitative"}}},
        {"data": {"values": [{}]}, "mark": {"type": "text", "text": "Ichimoku (9, 26, 52, 26, 26)", "align": "left", "baseline": "middle", "dx": 1.2, "fontSize": 12.5, "color": "#131722"}, "encoding": {"x": {"datum": "2024-06-14", "type": "ordinal"}, "y": {"datum": 161.41, "type": "quantitative"}}},
        {"data": {"values": [{}]}, "mark": {"type": "text", "text": "149.27", "align": "left", "baseline": "middle", "dx": 166.2, "fontSize": 12.5, "color": "#2196F3"}, "encoding": {"x": {"datum": "2024-06-14", "type": "ordinal"}, "y": {"datum": 161.41, "type": "quantitative"}}},
        {"data": {"values": [{}]}, "mark": {"type": "text", "text": "145.06", "align": "left", "baseline": "middle", "dx": 212.2, "fontSize": 12.5, "color": "#801922"}, "encoding": {"x": {"datum": "2024-06-14", "type": "ordinal"}, "y": {"datum": 161.41, "type": "quantitative"}}},
        {"data": {"values": [{}]}, "mark": {"type": "text", "text": "150.52", "align": "left", "baseline": "middle", "dx": 257.2, "fontSize": 12.5, "color": "#43A047"}, "encoding": {"x": {"datum": "2024-06-14", "type": "ordinal"}, "y": {"datum": 161.41, "type": "quantitative"}}},
        {"data": {"values": [{}]}, "mark": {"type": "text", "text": "147.16", "align": "left", "baseline": "middle", "dx": 301.2, "fontSize": 12.5, "color": "#A5D6A7"}, "encoding": {"x": {"datum": "2024-06-14", "type": "ordinal"}, "y": {"datum": 161.41, "type": "quantitative"}}},
        {"data": {"values": [{}]}, "mark": {"type": "text", "text": "145.06", "align": "left", "baseline": "middle", "dx": 347.2, "fontSize": 12.5, "color": "#EF9A9A"}, "encoding": {"x": {"datum": "2024-06-14", "type": "ordinal"}, "y": {"datum": 161.41, "type": "quantitative"}}},
        {"data": {"values": [{"v": 151.34}]}, "encoding": {"x": {"datum": "2024-11-25", "type": "ordinal"}, "y": {"field": "v", "type": "quantitative"}}, "layer": [
          {"mark": {"type": "point", "shape": "M-1,-0.36L1,-0.36L1,0.36L-1,0.36Z", "filled": true, "opacity": 1, "size": 2601, "color": "#26C6DA", "xOffset": 35.3, "yOffset": -40}},
          {"mark": {"type": "text", "text": "151.34", "fontSize": 12, "color": "#131722", "xOffset": 35.3, "yOffset": -40}}]},
        {"data": {"values": [{"v": 150.78}]}, "encoding": {"x": {"datum": "2024-11-25", "type": "ordinal"}, "y": {"field": "v", "type": "quantitative"}}, "layer": [
          {"mark": {"type": "point", "shape": "M-1,-0.36L1,-0.36L1,0.36L-1,0.36Z", "filled": true, "opacity": 1, "size": 2601, "color": "#2196F3", "xOffset": 35.3, "yOffset": -31}},
          {"mark": {"type": "text", "text": "150.78", "fontSize": 12, "color": "#ffffff", "xOffset": 35.3, "yOffset": -31}}]},
        {"data": {"values": [{"v": 150.52}]}, "encoding": {"x": {"datum": "2024-11-25", "type": "ordinal"}, "y": {"field": "v", "type": "quantitative"}}, "layer": [
          {"mark": {"type": "point", "shape": "M-1,-0.36L1,-0.36L1,0.36L-1,0.36Z", "filled": true, "opacity": 1, "size": 2601, "color": "#089981", "xOffset": 35.3, "yOffset": -18}},
          {"mark": {"type": "text", "text": "150.52", "fontSize": 12, "color": "#ffffff", "xOffset": 35.3, "yOffset": -18}}]},
        {"data": {"values": [{"v": 150.52}]}, "encoding": {"x": {"datum": "2024-11-25", "type": "ordinal"}, "y": {"field": "v", "type": "quantitative"}}, "layer": [
          {"mark": {"type": "point", "shape": "M-1,-0.36L1,-0.36L1,0.36L-1,0.36Z", "filled": true, "opacity": 1, "size": 2601, "color": "#43A047", "xOffset": 35.3}},
          {"mark": {"type": "text", "text": "150.52", "fontSize": 12, "color": "#ffffff", "xOffset": 35.3}}]},
        {"data": {"values": [{"v": 149.27}]}, "encoding": {"x": {"datum": "2024-11-25", "type": "ordinal"}, "y": {"field": "v", "type": "quantitative"}}, "layer": [
          {"mark": {"type": "point", "shape": "M-1,-0.36L1,-0.36L1,0.36L-1,0.36Z", "filled": true, "opacity": 1, "size": 2601, "color": "#2196F3", "xOffset": 35.3}},
          {"mark": {"type": "text", "text": "149.27", "fontSize": 12, "color": "#ffffff", "xOffset": 35.3}}]},
        {"data": {"values": [{"v": 147.16}]}, "encoding": {"x": {"datum": "2024-11-25", "type": "ordinal"}, "y": {"field": "v", "type": "quantitative"}}, "layer": [
          {"mark": {"type": "point", "shape": "M-1,-0.36L1,-0.36L1,0.36L-1,0.36Z", "filled": true, "opacity": 1, "size": 2601, "color": "#A5D6A7", "xOffset": 35.3}},
          {"mark": {"type": "text", "text": "147.16", "fontSize": 12, "color": "#131722", "xOffset": 35.3}}]},
        {"data": {"values": [{"v": 145.55}]}, "encoding": {"x": {"datum": "2024-11-25", "type": "ordinal"}, "y": {"field": "v", "type": "quantitative"}}, "layer": [
          {"mark": {"type": "point", "shape": "M-1,-0.36L1,-0.36L1,0.36L-1,0.36Z", "filled": true, "opacity": 1, "size": 2601, "color": "#FF6D00", "xOffset": 35.3}},
          {"mark": {"type": "text", "text": "145.55", "fontSize": 12, "color": "#ffffff", "xOffset": 35.3}}]},
        {"data": {"values": [{"v": 145.06}]}, "encoding": {"x": {"datum": "2024-11-25", "type": "ordinal"}, "y": {"field": "v", "type": "quantitative"}}, "layer": [
          {"mark": {"type": "point", "shape": "M-1,-0.36L1,-0.36L1,0.36L-1,0.36Z", "filled": true, "opacity": 1, "size": 2601, "color": "#801922", "xOffset": 35.3, "yOffset": 10.7}},
          {"mark": {"type": "text", "text": "145.06", "fontSize": 12, "color": "#ffffff", "xOffset": 35.3, "yOffset": 10.7}}]},
        {"data": {"values": [{"v": 145.06}]}, "encoding": {"x": {"datum": "2024-11-25", "type": "ordinal"}, "y": {"field": "v", "type": "quantitative"}}, "layer": [
          {"mark": {"type": "point", "shape": "M-1,-0.36L1,-0.36L1,0.36L-1,0.36Z", "filled": true, "opacity": 1, "size": 2601, "color": "#EF9A9A", "xOffset": 35.3, "yOffset": 28.5}},
          {"mark": {"type": "text", "text": "145.06", "fontSize": 12, "color": "#131722", "xOffset": 35.3, "yOffset": 28.5}}]}
      ]
    },
    {
      "width": 1003,
      "height": 102,
      "layer": [
        {
          "data": {"values": [{}]},
          "mark": {"type": "rect", "color": "#7E57C2", "opacity": 0.1},
          "encoding": {
            "y": {"datum": 30, "type": "quantitative", "scale": {"domain": [5.5, 82.5], "nice": false, "zero": false},
                  "axis": {"orient": "right", "values": [25, 50, 75], "format": ".2f", "title": null, "grid": true, "gridColor": "#f0f3fa", "domain": false, "ticks": false, "tickSize": 0, "labelPadding": 9, "labelFontSize": 12, "labelColor": "#131722"}},
            "y2": {"datum": 70}
          }
        },
        {
          "data": {"values": [{"lv": 70}, {"lv": 50}, {"lv": 30}]},
          "mark": {"type": "rule", "color": "#787B86", "strokeDash": [5, 4], "strokeWidth": 1},
          "encoding": {"y": {"field": "lv", "type": "quantitative"}}
        },
        {
          "data": {"name": "candles"},
          "mark": {"type": "line", "color": "#7E57C2", "strokeWidth": 2},
          "encoding": {
            "x": {"field": "d", "type": "ordinal", "scale": {"type": "band", "paddingInner": 0, "paddingOuter": 0.3},
                  "axis": {"values": ["2024-06-17","2024-07-01","2024-07-15","2024-08-01","2024-08-15","2024-09-02","2024-09-16","2024-10-01","2024-10-15","2024-11-01","2024-11-13"],
                           "labelExpr": "datum.value=='2024-07-01'?'Jul':datum.value=='2024-08-01'?'Aug':datum.value=='2024-09-02'?'Sep':datum.value=='2024-10-01'?'Oct':datum.value=='2024-11-01'?'Nov':slice(datum.value,8)",
                           "labelAngle": 0, "ticks": false, "domain": false, "title": null, "grid": true, "gridColor": "#f0f3fa", "bandPosition": 0.5, "labelPadding": 5, "labelFontSize": 12, "labelColor": "#131722"}},
            "y": {"field": "r", "type": "quantitative"}
          }
        },
        {"data": {"values": [{}]}, "mark": {"type": "text", "text": "RSI (14)", "align": "left", "baseline": "middle", "dx": 1.2, "fontSize": 12.5, "color": "#131722"}, "encoding": {"x": {"datum": "2024-06-14", "type": "ordinal"}, "y": {"datum": 71.9, "type": "quantitative"}}},
        {"data": {"values": [{}]}, "mark": {"type": "text", "text": "64.93", "align": "left", "baseline": "middle", "dx": 51.2, "fontSize": 12.5, "color": "#7E57C2"}, "encoding": {"x": {"datum": "2024-06-14", "type": "ordinal"}, "y": {"datum": 71.9, "type": "quantitative"}}},
        {"data": {"values": [{"v": 64.93}]}, "encoding": {"x": {"datum": "2024-11-25", "type": "ordinal"}, "y": {"field": "v", "type": "quantitative"}}, "layer": [
          {"mark": {"type": "point", "shape": "M-1,-0.36L1,-0.36L1,0.36L-1,0.36Z", "filled": true, "opacity": 1, "size": 2601, "color": "#7E57C2", "xOffset": 35.3}},
          {"mark": {"type": "text", "text": "64.93", "fontSize": 12, "color": "#ffffff", "xOffset": 35.3}}]}
      ]
    }
  ]
}
